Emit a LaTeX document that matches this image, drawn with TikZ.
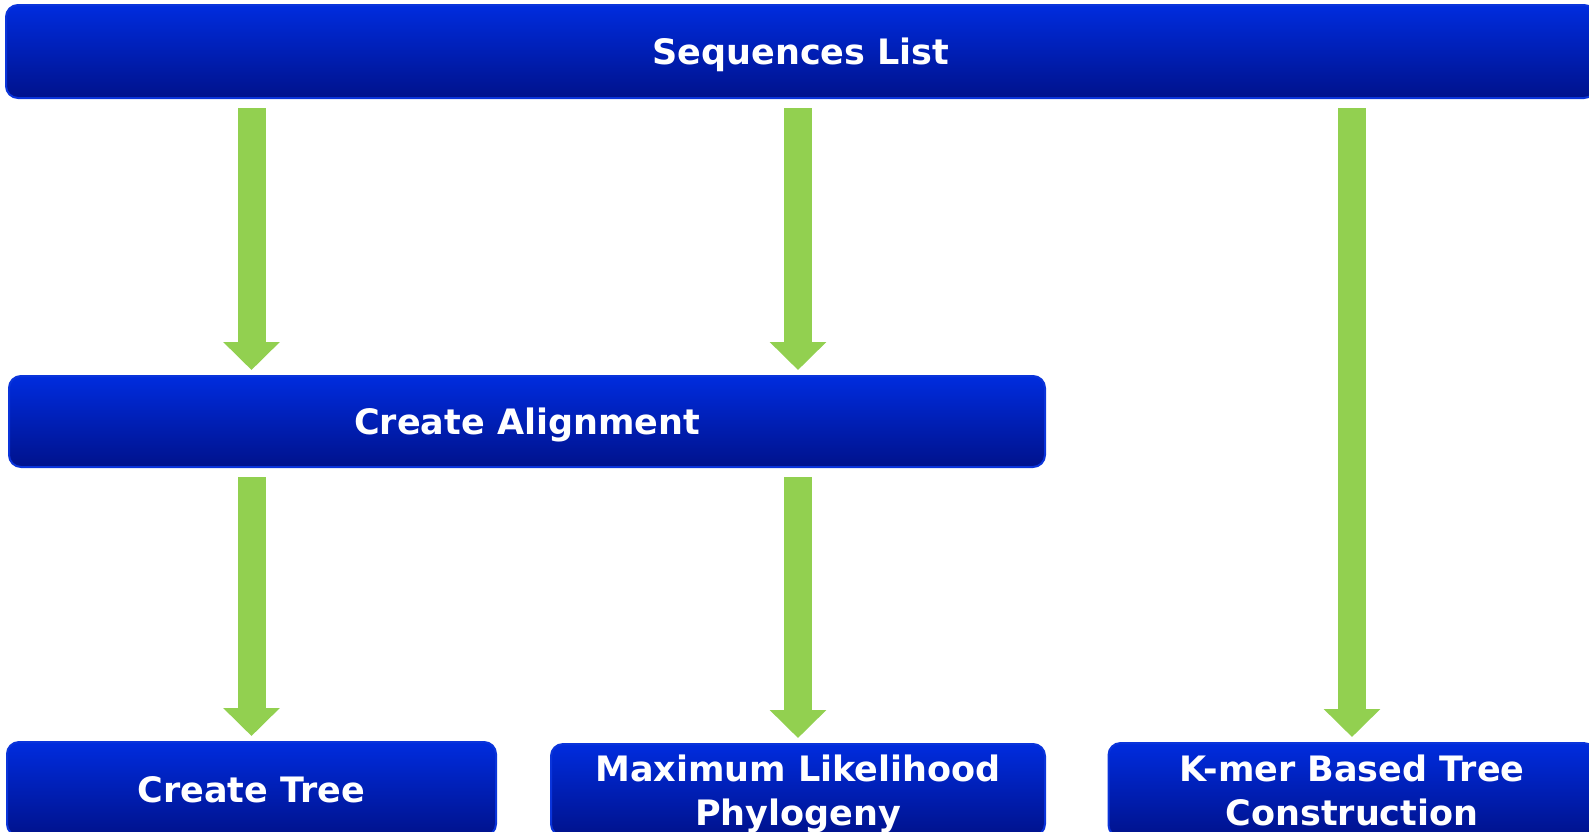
\documentclass[tikz,border=0pt]{standalone}
\usepackage{fontspec}
\setmainfont{DejaVu Sans}
\usetikzlibrary{arrows.meta,positioning}

\definecolor{boxtop}{RGB}{0,44,222}
\definecolor{boxbot}{RGB}{0,18,140}
\definecolor{boxline}{RGB}{10,52,218}
\definecolor{flowgreen}{RGB}{146,208,80}

\begin{document}
\begin{tikzpicture}[
    x=1pt, y=-1pt,
    % --- node styles ---
    stepbox/.style = {rectangle, rounded corners=12pt,
                      draw=boxline, line width=2pt,
                      top color=boxtop, bottom color=boxbot,
                      text=white, align=center, inner sep=0pt,
                      text depth=0pt,
                      font=\fontsize{35}{44}\selectfont\bfseries},
    flow/.style    = {draw=flowgreen, line width=28pt,
                      -{Triangle[width=55pt,length=28pt]},
                      shorten <=9pt, shorten >=5pt},
]
\useasboundingbox (0,0) rectangle (1589,831);
\clip (0,0) rectangle (1589,831);

%============ INPUT ============
\node (seq) [stepbox, minimum width=1590pt, minimum height=93pt]
  at (801,51.5) {Sequences List};

%============ ALIGNMENT ============
\node (align) [stepbox, minimum width=1036pt, minimum height=91pt]
  at (527,421.5) {Create Alignment};

%============ TREE BUILDERS ============
\node (tree) [stepbox, minimum width=489pt, minimum height=94pt]
  at (251.5,789) {Create Tree};

\node (ml) [stepbox, minimum width=494pt, minimum height=92pt]
  at (798,790) {Maximum Likelihood\\Phylogeny};

\node (kmer) [stepbox, minimum width=487pt, minimum height=94pt]
  at (1352,790) {K-mer Based Tree\\Construction};

%============ ARROWS ============
\foreach \col in {tree, ml}
  \draw[flow] (seq.south -| \col.north) -- (align.north -| \col.north);
\foreach \col in {tree, ml}
  \draw[flow] (align.south -| \col.north) -- (\col.north);

% k-mer route skips the alignment step
\draw[flow] (seq.south -| kmer.north) -- (kmer.north);

\end{tikzpicture}
\end{document}
